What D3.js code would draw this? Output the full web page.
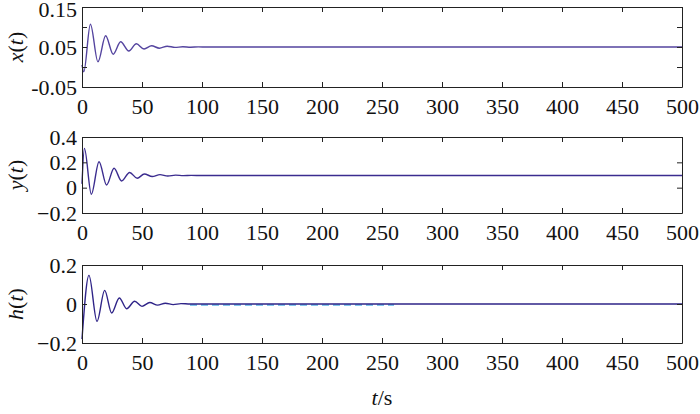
<!DOCTYPE html>
<html lang="en">
	<head>
		<meta charset="utf-8">
		<title>x(t), y(t), h(t)</title>
		<script type="text/javascript" src="https://cdn.jsdelivr.net/npm/d3@7/dist/d3.min.js"></script>
		<style type="text/css">
			body { margin: 0; background: #fff; }
		</style>
	</head>
	<body>
		<script>
			// values (turning points of each response)
			var xT    = [0, 1.5, 7, 13.3, 19.7, 26, 32.2, 39, 45.3, 51.7, 58, 64.5, 71, 77.5, 84, 90.5, 97, 104, 500];
			var xVals = [0.005, -0.012, 0.107, 0.013, 0.078, 0.032, 0.063, 0.040, 0.058, 0.045, 0.053, 0.047, 0.052, 0.049, 0.0505, 0.0495, 0.0502, 0.05, 0.05];

			var yT    = [0, 2, 7.8, 14.2, 20.5, 26.7, 33, 39.7, 46, 52, 58.5, 65, 71.5, 78, 84.5, 91, 100, 500];
			var yVals = [0.03, 0.31, -0.052, 0.205, 0.021, 0.153, 0.053, 0.12, 0.074, 0.108, 0.088, 0.103, 0.092, 0.099, 0.095, 0.097, 0.096, 0.096];

			var hT    = [0, 5.8, 12.5, 18.9, 24.7, 31.1, 37.2, 43.9, 50, 56.5, 63, 69.5, 76, 82.5, 90, 500];
			var hVals = [-0.18, 0.147, -0.089, 0.07, -0.046, 0.031, -0.024, 0.014, -0.012, 0.008, -0.006, 0.004, -0.003, 0.002, 0, 0];

			var hRefT    = [90, 260];
			var hRefVals = [0, 0];

			var xTicks = [0, 50, 100, 150, 200, 250, 300, 350, 400, 450, 500];
			var xPanelTicks = [-0.05, 0, 0.05, 0.1, 0.15];
			var xPanelLabels = ["-0.05", "", "0.05", "", "0.15"];
			var yPanelTicks = [-0.2, 0, 0.2, 0.4];
			var hPanelTicks = [-0.2, 0, 0.2];

			var width = 700, height = 414,
				left = 82, right = 682,
				fontSize = "22px",
				serif = "'Liberation Serif'";

			var panels = [
				{top: 7,   bottom: 87,  domain: [-0.05, 0.15], ticks: xPanelTicks, labels: xPanelLabels,
				 name: "x", t: xT, v: xVals, color: "#54449f"},
				{top: 137, bottom: 213, domain: [-0.2, 0.4], ticks: yPanelTicks, labels: null,
				 name: "y", t: yT, v: yVals, color: "#3b2c8f"},
				{top: 265, bottom: 343, domain: [-0.2, 0.2], ticks: hPanelTicks, labels: null,
				 name: "h", t: hT, v: hVals, color: "#2f2488",
				 ref: {t: hRefT, v: hRefVals, color: "#5ab4e5"}}
			];

			var svg = d3.select("body")
						.append("svg")
						.attr("width", width)
						.attr("height", height);

			var x = d3.scaleLinear().domain([0, 500]).range([left, right]);

			function fmt(d) {
				return d === 0 ? "0" : d3.format("")(d);
			}

			function serifText(sel) {
				sel.style("font-family", serif)
					.style("font-size", fontSize)
					.style("fill", "#111");
			}

			panels.forEach(function(p) {
				var y = d3.scaleLinear().domain(p.domain).range([p.bottom, p.top]);
				var g = svg.append("g");

				var line = d3.line()
					.x(function(d) { return x(d[0]); })
					.y(function(d) { return y(d[1]); })
					.curve(d3.curveMonotoneX);

				if (p.ref) {
					g.append("path")
						.datum(d3.zip(p.ref.t, p.ref.v))
						.attr("d", line)
						.attr("transform", "translate(0,1)")
						.style("fill", "none")
						.style("stroke", p.ref.color)
						.style("stroke-width", 1.6)
						.style("stroke-dasharray", "7,4");
				}

				g.append("path")
					.datum(d3.zip(p.t, p.v))
					.attr("d", line)
					.style("fill", "none")
					.style("stroke", p.color)
					.style("stroke-width", 1.4);

				// box with inward ticks on all four sides
				var bottomAxis = d3.axisBottom(x).tickValues(xTicks).tickSizeInner(-5).tickSizeOuter(0)
					.tickPadding(11).tickFormat(d3.format("d"));
				var topAxis = d3.axisTop(x).tickValues(xTicks).tickSizeInner(-5).tickSizeOuter(0).tickFormat("");
				var leftAxis = d3.axisLeft(y).tickValues(p.ticks).tickSizeInner(-5).tickSizeOuter(0)
					.tickPadding(5)
					.tickFormat(function(d, i) { return p.labels ? p.labels[i] : fmt(d); });
				var rightAxis = d3.axisRight(y).tickValues(p.ticks).tickSizeInner(-5).tickSizeOuter(0).tickFormat("");

				g.append("g").attr("transform", "translate(0," + p.bottom + ")").call(bottomAxis);
				g.append("g").attr("transform", "translate(0," + p.top + ")").call(topAxis);
				var la = g.append("g").attr("transform", "translate(" + left + ",0)").call(leftAxis);
				g.append("g").attr("transform", "translate(" + right + ",0)").call(rightAxis);

				g.selectAll(".domain, .tick line").style("stroke", "#222").style("stroke-width", 1);
				g.selectAll(".tick text").call(serifText);

				// keep the topmost label inside the page
				la.selectAll(".tick text")
					.attr("y", function(d) { return Math.max(0, 9 - y(d)); });

				var lab = g.append("text")
					.attr("transform", "translate(23," + ((p.top + p.bottom) / 2) + ") rotate(-90)")
					.attr("text-anchor", "middle")
					.call(serifText);
				lab.append("tspan").style("font-style", "italic").text(p.name);
				lab.append("tspan").text("(");
				lab.append("tspan").style("font-style", "italic").text("t");
				lab.append("tspan").text(")");
			});

			var xl = svg.append("text")
				.attr("x", (left + right) / 2)
				.attr("y", 405)
				.attr("text-anchor", "middle")
				.call(serifText);
			xl.append("tspan").style("font-style", "italic").text("t");
			xl.append("tspan").text("/s");
		</script>
	</body>
</html>
